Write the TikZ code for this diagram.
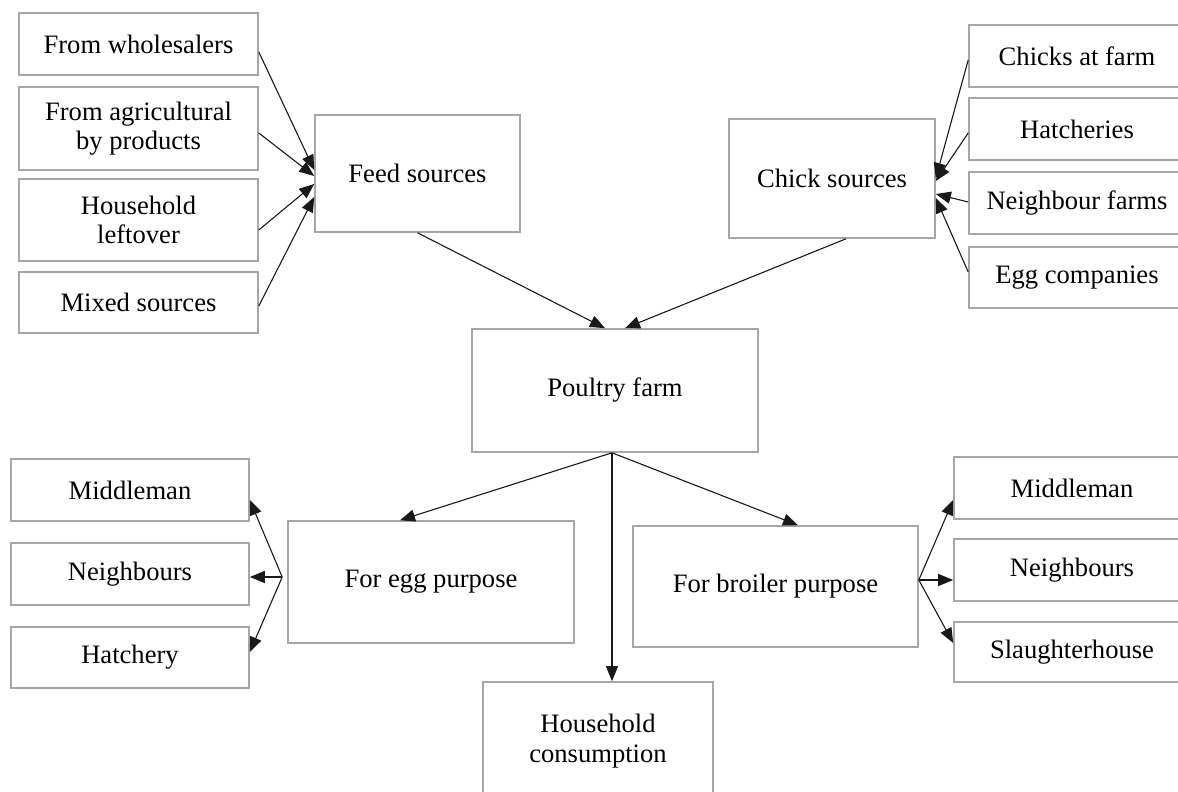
\documentclass[tikz,border=0pt]{standalone}
\usepackage{fontspec}
\setmainfont{Liberation Serif}
\usetikzlibrary{arrows.meta}
\begin{document}
\begin{tikzpicture}[x=1pt,y=-1pt,
  box/.style={draw=gray!70, line width=1.6pt, fill=white, inner sep=0pt, align=center,
    font=\fontsize{26.6}{29.5}\selectfont, text=black},
  conn/.style={draw=black!90, line width=1.1pt, -{Triangle[length=15pt,width=12pt]}}]
\useasboundingbox (0,0) rectangle (1178,792);
% feed sources column
\node[box, minimum width=239pt, minimum height=62pt] (w)  at (138.5,44)    {From wholesalers};
\node[box, minimum width=239pt, minimum height=83pt] (ag) at (138.5,128.5) {From agricultural\\by products};
\node[box, minimum width=239pt, minimum height=82pt] (hl) at (138.5,220)   {Household\\leftover};
\node[box, minimum width=239pt, minimum height=61pt] (ms) at (138.5,302.5) {Mixed sources};
\node[box, minimum width=205pt, minimum height=117pt] (feed) at (417.5,173.5) {Feed sources};
% chick sources column
\node[box, minimum width=206pt, minimum height=119pt] (chick) at (832,178.5) {Chick sources};
\node[box, minimum width=216pt, minimum height=62pt] (cf)  at (1077,56)    {Chicks at farm};
\node[box, minimum width=216pt, minimum height=62pt] (hat) at (1077,129)   {Hatcheries};
\node[box, minimum width=216pt, minimum height=62pt] (nf)  at (1077,203)   {Neighbour farms};
\node[box, minimum width=216pt, minimum height=61pt] (ec)  at (1077,277.5) {Egg companies};
% centre
\node[box, minimum width=286pt, minimum height=123pt] (pf) at (615,390.5) {Poultry farm};
% egg side
\node[box, minimum width=238pt, minimum height=62pt] (lm) at (130,490)   {Middleman};
\node[box, minimum width=238pt, minimum height=62pt] (ln) at (130,574)   {Neighbours};
\node[box, minimum width=238pt, minimum height=61pt] (lh) at (130,657.5) {Hatchery};
\node[box, minimum width=286pt, minimum height=122pt] (egg) at (431,582) {For egg purpose};
% broiler side
\node[box, minimum width=285pt, minimum height=121pt] (broiler) at (775.5,586.5) {For broiler purpose};
\node[box, minimum width=236pt, minimum height=62pt] (rm) at (1072,488) {Middleman};
\node[box, minimum width=236pt, minimum height=62pt] (rn) at (1072,570) {Neighbours};
\node[box, minimum width=236pt, minimum height=60pt] (rs) at (1072,652) {Slaughterhouse};
% household
\node[box, minimum width=230pt, minimum height=118pt] (hc) at (598,741) {Household\\consumption};
% connectors: feed
\draw[conn] ([yshift=-8pt]w.east)    -- ([yshift=3.5pt]feed.west);
\draw[conn] ([yshift=-4.5pt]ag.east) -- ([yshift=-2.5pt]feed.west);
\draw[conn] ([yshift=-10pt]hl.east)  -- ([yshift=-10.5pt]feed.west);
\draw[conn] ([yshift=-3.5pt]ms.east) -- ([yshift=-23.5pt]feed.west);
% connectors: chick
\draw[conn] ([yshift=-4pt]cf.west)   -- ([yshift=0.5pt]chick.east);
\draw[conn] ([yshift=-4pt]hat.west)  -- ([yshift=-2.5pt]chick.east);
\draw[conn] ([yshift=1pt]nf.west)    -- ([yshift=-15.5pt]chick.east);
\draw[conn] ([yshift=5.5pt]ec.west)  -- ([yshift=-19.5pt]chick.east);
% to poultry farm
\draw[conn] (feed.south) -- ([xshift=-10pt]pf.north);
\draw[conn] ([xshift=14pt]chick.south)  -- ([xshift=10pt]pf.north);
% from poultry farm
\coordinate (pfb) at ([xshift=-3pt]pf.south);
\draw[conn] (pfb) -- ([xshift=-31pt]egg.north);
\draw[conn] (pfb) -- ([xshift=22.5pt]broiler.north);
\draw[conn] (pfb) -- (pfb |- hc.north);
% egg outputs
\coordinate (eggo) at ([xshift=-5pt,yshift=5pt]egg.west);
\draw[conn] (eggo) -- ([yshift=-10pt]lm.east);
\draw[conn] (eggo) -- (eggo -| ln.east);
\draw[conn] (eggo) -- ([yshift=5.5pt]lh.east);
% broiler outputs
\coordinate (bro) at ([yshift=6.5pt]broiler.east);
\draw[conn] (bro) -- ([yshift=-12pt]rm.west);
\draw[conn] (bro) -- (bro -| rn.west);
\draw[conn] (bro) -- ([yshift=9pt]rs.west);
\end{tikzpicture}
\end{document}
